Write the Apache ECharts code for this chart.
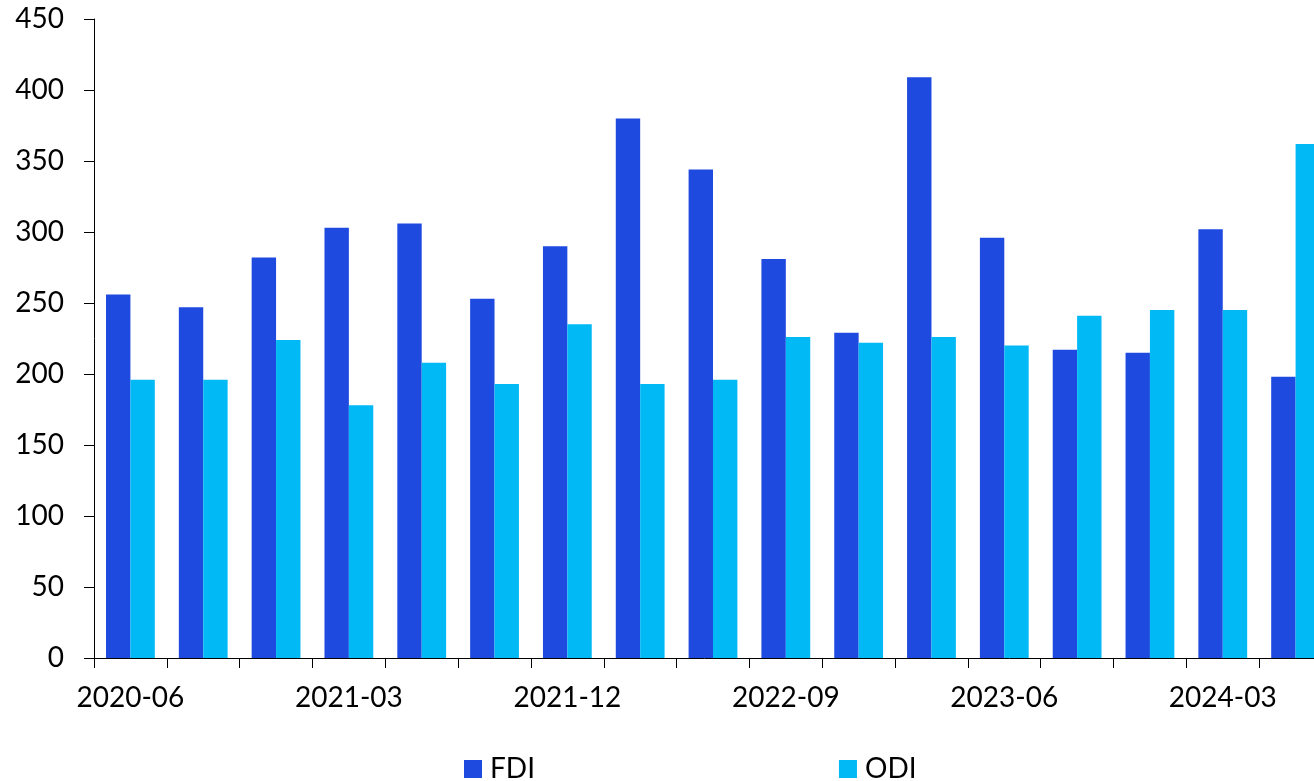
<!DOCTYPE html>
<html>
<head>
<meta charset="utf-8">
<script src="https://cdn.jsdelivr.net/npm/echarts@6/dist/echarts.min.js"></script>
<style>
html,body{margin:0;padding:0;background:#fff;}
#chart{width:1314px;height:781px;}
</style>
</head>
<body>
<div id="chart"></div>
<script>
const categories = ['2020-06','2020-09','2020-12','2021-03','2021-06','2021-09','2021-12','2022-03','2022-06','2022-09','2022-12','2023-03','2023-06','2023-09','2023-12','2024-03','2024-06'];
const fdi = [256, 247, 282, 303, 306, 253, 290, 380, 344, 281, 229, 409, 296, 217, 215, 302, 198];
const odi = [196, 196, 224, 178, 208, 193, 235, 193, 196, 226, 222, 226, 220, 241, 245, 245, 362];
const seriesNames = ['FDI', 'ODI'];
const yTicks = {min: 0, max: 450, interval: 50};

const FONT = 'Lato';
const chart = echarts.init(document.getElementById('chart'), null, {renderer: 'canvas'});
chart.setOption({
  animation: false,
  backgroundColor: '#ffffff',
  grid: {left: 94, top: 19, height: 639, width: 1238, containLabel: false, outerBoundsMode: 'none'},
  legend: {
    data: seriesNames,
    left: 464,
    top: 755,
    padding: 0,
    itemWidth: 18,
    itemHeight: 18,
    itemGap: 304,
    icon: 'rect',
    textStyle: {fontFamily: FONT, fontSize: 28, color: '#000', lineHeight: 28, padding: [0, 0, 0, 3]}
  },
  xAxis: {
    type: 'category',
    data: categories,
    boundaryGap: true,
    axisLine: {lineStyle: {color: '#000', width: 1}},
    axisTick: {show: true, interval: 0, length: 10, lineStyle: {color: '#000'}},
    axisLabel: {interval: 2, margin: 26, fontFamily: FONT, fontSize: 28, color: '#000', lineHeight: 28}
  },
  yAxis: {
    type: 'value',
    min: yTicks.min,
    max: yTicks.max,
    interval: yTicks.interval,
    axisLine: {show: true, lineStyle: {color: '#000', width: 1}},
    axisTick: {show: true, length: 10, lineStyle: {color: '#000'}},
    splitLine: {show: false},
    axisLabel: {margin: 30, fontFamily: FONT, fontSize: 28, color: '#000'}
  },
  series: [
    {
      name: seriesNames[0],
      type: 'bar',
      data: fdi,
      barGap: '0%',
      barCategoryGap: '33%',
      itemStyle: {color: '#1F4AE0'}
    },
    {
      name: seriesNames[1],
      type: 'bar',
      data: odi,
      barGap: '0%',
      barCategoryGap: '33%',
      itemStyle: {color: '#00B9F5'}
    }
  ]
});
</script>
</body>
</html>
